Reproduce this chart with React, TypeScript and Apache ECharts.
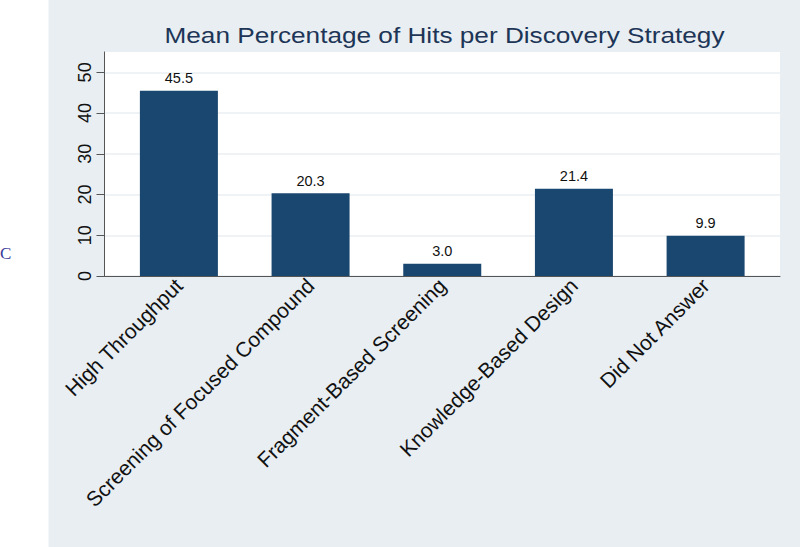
import React, { useEffect, useRef } from "react";
import * as echarts from "echarts";

const categories = [
  "High Throughput",
  "Screening of Focused Compound",
  "Fragment-Based Screening",
  "Knowledge-Based Design",
  "Did Not Answer",
];
const meanPercent = [45.5, 20.3, 3.0, 21.4, 9.9];
const yTicks = [0, 10, 20, 30, 40, 50];
const titleText = "Mean Percentage of Hits per Discovery Strategy";
const sideMark = "C";

export default function App() {
  const ref = useRef<HTMLDivElement>(null);
  useEffect(() => {
    const chart = echarts.init(ref.current!, null, { renderer: "svg" });
    const font = "Liberation Sans, Arial, sans-serif";
    chart.setOption({
      animation: false,
      graphic: [
        {
          type: "rect",
          z: -10,
          shape: { x: 48.5, y: 0, width: 751.5, height: 547 },
          style: { fill: "#e8eef1" },
          silent: true,
        },
        {
          type: "text",
          x: 444.5,
          y: 35,
          scaleX: 1.19,
          style: {
            text: titleText,
            fontFamily: font,
            fontSize: 22,
            fill: "#1d3557",
            textAlign: "center",
            textVerticalAlign: "middle",
          },
        },
        {
          type: "text",
          x: 0,
          y: 253,
          style: {
            text: sideMark,
            fontFamily: "Liberation Serif, serif",
            fontSize: 17,
            fill: "#3a3a9a",
            textAlign: "left",
            textVerticalAlign: "middle",
          },
        },
      ],
      grid: {
        left: 104.5,
        right: 20,
        top: 52,
        bottom: 271,
        show: true,
        backgroundColor: "#ffffff",
        borderWidth: 0,
      },
      xAxis: {
        type: "value",
        min: -0.565,
        max: 4.565,
        splitLine: { show: false },
        axisTick: { show: false },
        axisLine: { show: true, onZero: false, lineStyle: { color: "#555", width: 1 } },
        axisLabel: {
          customValues: [0, 1, 2, 3, 4],
          formatter: (v: number) => categories[Math.round(v)] ?? "",
          rotate: 45,
          fontSize: 21,
          fontFamily: font,
          color: "#111",
          margin: 6,
        },
      },
      yAxis: {
        type: "value",
        min: 0,
        max: 55,
        axisLine: { show: true, onZero: false, lineStyle: { color: "#555", width: 1 } },
        axisTick: { show: true, length: 8, customValues: yTicks, lineStyle: { color: "#555" } },
        axisLabel: {
          customValues: yTicks,
          rotate: 90,
          fontSize: 18,
          fontFamily: font,
          color: "#111",
          margin: 11,
        },
        splitLine: { show: true, lineStyle: { color: "#eaeff2", width: 1.5 } },
      },
      series: [
        {
          type: "bar",
          barWidth: 78,
          data: meanPercent.map((v, i) => [i, v]),
          itemStyle: { color: "#1a476f" },
          label: {
            show: true,
            position: "top",
            distance: 5,
            fontSize: 14.5,
            fontFamily: font,
            color: "#111",
            formatter: (p: any) => Number(p.value[1]).toFixed(1),
          },
        },
      ],
    });
    return () => chart.dispose();
  }, []);
  return (
    <div
      ref={ref}
      style={{ position: "absolute", left: 0, top: 0, width: 800, height: 547, background: "#fff" }}
    />
  );
}
